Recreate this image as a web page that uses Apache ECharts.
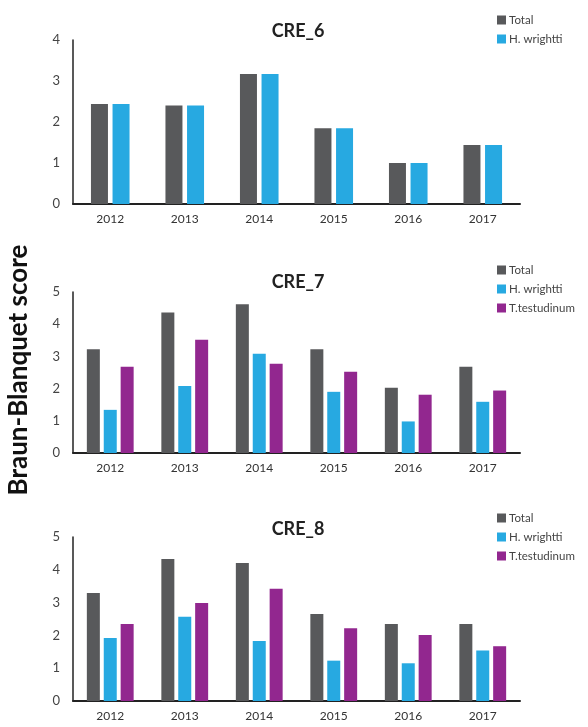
<!DOCTYPE html>
<html>
<head>
<meta charset="utf-8">
<script src="https://cdn.jsdelivr.net/npm/echarts@6/dist/echarts.min.js"></script>
<style>
  html, body { margin: 0; padding: 0; background: #fff; }
  #chart { width: 588px; height: 727px; }
</style>
</head>
<body>
<div id="chart"></div>
<script>
// data
const years = ['2012', '2013', '2014', '2015', '2016', '2017'];

const cre6Total = [2.44, 2.40, 3.17, 1.85, 1.00, 1.44];
const cre6Hw = [2.44, 2.40, 3.17, 1.85, 1.00, 1.44];

const cre7Total = [3.22, 4.36, 4.62, 3.22, 2.03, 2.68];
const cre7Hw = [1.34, 2.08, 3.08, 1.90, 0.98, 1.59];
const cre7Tt = [2.68, 3.52, 2.77, 2.52, 1.81, 1.94];

const cre8Total = [3.29, 4.33, 4.21, 2.65, 2.35, 2.35];
const cre8Hw = [1.92, 2.57, 1.83, 1.23, 1.15, 1.54];
const cre8Tt = [2.35, 2.99, 3.42, 2.22, 2.01, 1.67];

const colors = { 'Total': '#58595b', 'H. wrightti': '#27a9e1', 'T.testudinum': '#92278f' };
const font = 'Lato, "Noto Sans", sans-serif';

// one panel per site
const panels = [
  { title: 'CRE_6', top: 40, height: 164, max: 4, barWidth: 17, barGap: '27%', legendTop: 9,
    series: [['Total', cre6Total], ['H. wrightti', cre6Hw]] },
  { title: 'CRE_7', top: 292, height: 161, max: 5, barWidth: 13, barGap: '30%', legendTop: 259,
    series: [['Total', cre7Total], ['H. wrightti', cre7Hw], ['T.testudinum', cre7Tt]] },
  { title: 'CRE_8', top: 537, height: 164, max: 5, barWidth: 13, barGap: '30%', legendTop: 507,
    series: [['Total', cre8Total], ['H. wrightti', cre8Hw], ['T.testudinum', cre8Tt]] }
];

const titleTops = [17, 268, 515];

let option = {
  animation: false,
  textStyle: { fontFamily: font },
  title: [],
  legend: [],
  grid: [],
  xAxis: [],
  yAxis: [],
  series: [],
  graphic: [{
    type: 'text',
    x: 19,
    y: 370,
    rotation: Math.PI / 2,
    style: {
      text: 'Braun-Blanquet score',
      font: 'bold 26px ' + font,
      fill: '#111',
      textAlign: 'center',
      textVerticalAlign: 'middle'
    }
  }]
};

panels.forEach((p, i) => {
  option.title.push({
    text: p.title,
    left: 293,
    top: titleTops[i],
    textAlign: 'center',
    textStyle: { fontSize: 18, fontWeight: 'bold', color: '#222', fontFamily: font }
  });
  option.legend.push({
    orient: 'vertical',
    left: 492,
    top: p.legendTop,
    itemWidth: 9,
    itemHeight: 9,
    itemGap: 7,
    icon: 'rect',
    data: p.series.map(s => s[0]),
    textStyle: { fontSize: 11.5, color: '#444', padding: [0, 0, 0, -2], fontFamily: font }
  });
  option.grid.push({ left: 73, right: 68, top: p.top, height: p.height });
  option.xAxis.push({
    type: 'category',
    gridIndex: i,
    data: years,
    axisLine: { lineStyle: { color: '#222', width: 2 } },
    axisTick: { show: false },
    axisLabel: { fontSize: 12, color: '#333', margin: 9 }
  });
  option.yAxis.push({
    type: 'value',
    gridIndex: i,
    min: 0,
    max: p.max,
    interval: 1,
    axisLine: { show: true, lineStyle: { color: '#222', width: 1.5 } },
    axisTick: { show: false },
    splitLine: { show: false },
    axisLabel: { fontSize: 13, color: '#444', margin: 13 }
  });
  p.series.forEach(([name, vals]) => {
    option.series.push({
      name: name,
      type: 'bar',
      xAxisIndex: i,
      yAxisIndex: i,
      data: vals,
      barWidth: p.barWidth,
      barGap: p.barGap,
      itemStyle: { color: colors[name] }
    });
  });
});

const chart = echarts.init(document.getElementById('chart'));
chart.setOption(option);
</script>
</body>
</html>
